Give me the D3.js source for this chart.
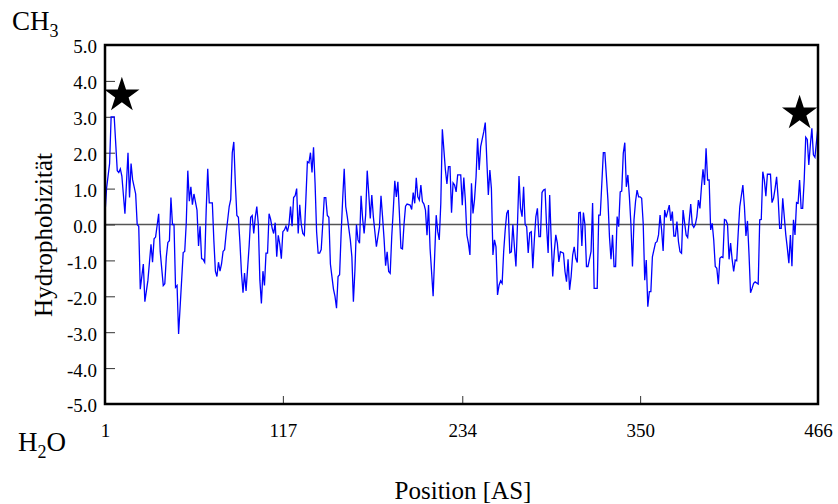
<!DOCTYPE html>
<html>
<head>
<meta charset="utf-8">
<script src="https://cdn.jsdelivr.net/npm/d3@7"></script>
<style>
  body { margin: 0; background: #fff; }
  text { font-family: "Liberation Serif", "Times New Roman", serif; fill: #000; }
</style>
</head>
<body>
<svg id="chart" width="838" height="504"></svg>
<script>
// x positions (amino acid index) of the line's vertices
const positions = [
  1, 2, 4, 5, 7, 9, 10, 11, 12, 14, 16, 17, 18, 19, 21, 22, 23, 24, 26, 27,
  29, 31, 32, 33, 34, 36, 37, 39, 40, 41, 42, 43, 44, 45, 46, 47, 48, 49, 52, 53,
  54, 55, 56, 57, 58, 59, 61, 62, 63, 64, 65, 66, 67, 68, 69, 71, 72, 73, 74, 75,
  76, 77, 78, 79, 80, 82, 83, 84, 85, 86, 87, 88, 89, 90, 91, 92, 93, 95, 96, 97,
  98, 99, 100, 101, 102, 103, 104, 105, 106, 107, 108, 109, 110, 111, 112, 113, 114, 115, 116, 117,
  118, 119, 120, 121, 122, 123, 124, 125, 126, 127, 128, 129, 130, 131, 132, 133, 134, 135, 136, 137,
  138, 139, 140, 141, 142, 143, 144, 145, 146, 147, 148, 149, 150, 151, 152, 153, 154, 155, 156, 157,
  158, 159, 161, 162, 163, 164, 165, 166, 167, 168, 169, 170, 171, 172, 173, 174, 175, 176, 178, 180,
  181, 182, 183, 184, 185, 186, 187, 188, 189, 190, 191, 192, 193, 194, 195, 196, 197, 198, 200, 201,
  202, 203, 204, 205, 206, 207, 208, 209, 210, 211, 212, 213, 215, 217, 218, 219, 220, 221, 223, 224,
  225, 226, 227, 228, 229, 230, 231, 233, 234, 235, 236, 237, 238, 239, 240, 241, 242, 243, 244, 245,
  246, 248, 249, 250, 251, 252, 253, 254, 255, 256, 257, 258, 259, 260, 261, 262, 263, 264, 265, 266,
  267, 268, 269, 270, 271, 272, 273, 274, 275, 276, 277, 278, 279, 280, 281, 282, 283, 284, 285, 286,
  287, 288, 289, 290, 291, 292, 293, 294, 295, 296, 297, 298, 300, 301, 302, 303, 304, 305, 306, 307,
  308, 309, 310, 311, 312, 313, 314, 315, 316, 318, 319, 320, 322, 323, 324, 326, 327, 329, 330, 331,
  332, 333, 334, 335, 336, 337, 338, 339, 340, 341, 342, 343, 344, 345, 346, 347, 348, 349, 350, 351,
  352, 353, 354, 355, 356, 357, 358, 360, 361, 362, 363, 364, 365, 366, 367, 369, 370, 371, 372, 373,
  374, 375, 376, 377, 378, 380, 381, 383, 384, 385, 386, 387, 388, 389, 390, 391, 392, 393, 394, 395,
  396, 397, 398, 399, 400, 401, 402, 403, 404, 405, 406, 407, 408, 409, 410, 411, 412, 413, 414, 415,
  417, 418, 419, 420, 421, 422, 423, 424, 425, 427, 428, 429, 430, 431, 432, 433, 435, 436, 437, 438,
  439, 440, 441, 442, 443, 445, 446, 447, 448, 449, 450, 451, 452, 453, 454, 455, 456, 457, 458, 459,
  460, 461, 462, 463, 464, 466
];

// hydrophobicity value at each vertex
const hydro = [
  0.3, 1.0, 1.7, 3.0, 3.0, 1.5, 1.45, 1.55, 1.35, 0.3, 2.0, 0.75, 1.7, 1.25, 0.85, 0.0, -0.05, -1.8, -1.1, -2.15,
  -1.55, -0.55, -1.05, -0.4, -0.35, 0.3, -0.75, -1.7, -1.65, -0.9, -0.5, -0.45, 0.75, 0.0, 0.0, -1.75, -1.7, -3.05, -0.78, -0.75,
  0.05, 1.5, 0.65, 1.05, 0.55, 0.85, 0.4, -0.6, -0.05, -0.95, -0.97, -1.05, 0.4, 1.55, 0.6, 0.6, -0.45, -1.3, -1.45, -1.05,
  -1.3, -1.1, -0.75, -0.7, -0.25, 0.5, 0.7, 2.0, 2.3, 1.15, 0.25, 0.2, -0.5, -1.35, -1.9, -1.35, -1.85, -0.6, 0.2, 0.25,
  -0.25, 0.2, 0.5, 0.0, -1.55, -2.2, -1.3, -1.7, -0.8, -0.8, 0.3, 0.15, -0.1, -0.25, 0.05, -0.9, -0.3, -0.55, -0.95, -0.2,
  -0.15, -0.05, -0.2, 0.0, 0.5, -0.05, 0.75, 0.8, 1.0, -0.25, 0.55, 0.0, -0.25, -0.3, 0.7, 1.75, 1.72, 2.0, 1.45, 2.15,
  1.15, -0.2, -0.8, -0.8, -0.7, 0.0, 0.75, 0.75, 0.25, 0.2, -1.1, -1.45, -1.8, -2.0, -2.33, -1.45, -1.4, -0.25, 0.7, 1.55,
  0.5, 0.22, -0.43, -0.9, -2.15, -1.27, 0.0, -0.43, -0.52, 0.8, 0.17, -0.25, 0.27, 1.5, 0.87, 0.17, 0.82, 0.22, -0.62, -0.06,
  0.8, 0.22, -0.4, -1.15, -0.76, -1.31, -1.36, -0.34, 0.4, 1.22, 0.77, 1.19, 0.31, -0.66, -0.68, 0.0, 0.51, 0.57, 0.54, 0.42,
  0.89, 0.59, 1.3, 0.77, 0.68, 1.1, 0.64, 0.57, 0.4, -0.3, 0.54, -0.66, -2.0, 0.26, -0.2, -0.43, 0.59, 2.65, 1.52, 1.13,
  1.61, 1.61, 0.33, 1.16, 1.1, 0.91, 1.38, 1.38, 0.54, 1.31, 0.68, -0.29, -0.52, -0.85, 1.15, 0.31, 0.7, 1.33, 2.4, 1.52,
  2.17, 2.58, 2.84, 1.8, 0.82, 1.52, 1.0, -0.85, -0.43, -0.62, -1.96, -1.69, -1.57, -1.64, -0.76, -0.15, 0.31, 0.4, -0.79, -0.76,
  0.0, -0.62, -1.17, 0.0, 1.35, 0.45, 0.22, 1.05, 0.0, -0.06, -0.79, -0.23, -0.2, -1.22, -0.43, 0.22, 0.45, -0.34, -0.34, 0.89,
  0.96, 0.98, -0.06, -0.79, 0.82, -0.43, -1.45, -0.76, -0.29, -0.52, -1.04, -0.76, -0.8, -1.31, -1.59, -0.97, -1.82, -1.45, -0.85, -0.62,
  -0.94, -1.06, 0.33, 0.34, -0.6, 0.33, 0.0, -1.17, -1.17, -0.75, 0.6, -1.78, -1.78, 0.26, 0.26, 2.0, 2.0, 0.68, -0.34, -0.97,
  -0.29, -1.17, -1.17, 0.22, -0.06, 0.91, 0.93, 1.98, 2.28, 1.05, 1.38, 0.77, 0.0, -1.17, 0.13, 0.64, 0.96, 0.77, 0.77, 0.73,
  0.03, -1.55, -0.99, -2.29, -1.87, -1.87, -0.9, -0.51, -0.48, -0.29, 0.26, -0.15, -0.74, 0.4, 0.2, 0.54, 0.1, 0.36, -0.32, -0.32,
  0.08, -0.48, -0.76, -0.8, 0.4, -0.29, -0.36, 0.57, 0.0, -0.08, 0.0, 0.22, 0.68, 0.45, 1.05, 1.54, 1.1, 2.12, 1.24, 1.24,
  -0.15, 0.03, -0.43, -1.17, -1.22, -1.66, -0.94, -0.9, -0.92, 0.14, 0.12, 0.0, -0.97, -0.52, -0.97, -1.31, -0.99, -1.01, -0.2, 0.5,
  1.1, 0.51, -0.32, 0.1, -0.82, -1.9, -1.78, -1.64, -1.6, -1.66, 0.13, 0.14, 1.47, 1.24, 0.79, 1.4, 1.4, 0.61, 0.73, 1.0,
  1.33, 0.73, -0.11, -0.11, 0.73, -0.29, -0.66, -1.08, -0.29, -1.16, 0.13, -0.29, 0.61, 0.59, 1.24, 0.45, 0.45, 1.24, 2.43, 2.37,
  1.66, 2.21, 2.68, 1.94, 1.87, 2.73
];

const yTicks = [-5, -4, -3, -2, -1, 0, 1, 2, 3, 4, 5];
const xTicks = [1, 117, 234, 350, 466];

// star markers near both ends of the sequence
const starPos = [12, 454];
const starVal = [3.6, 3.1];

const svg = d3.select("#chart");

const x = d3.scaleLinear().domain([1, 466]).range([105, 818]);
const y = d3.scaleLinear().domain([-5, 5]).range([404, 45]);

// zero line
svg.append("line")
    .attr("x1", x(1)).attr("x2", x(466))
    .attr("y1", y(0)).attr("y2", y(0))
    .attr("stroke", "#555")
    .attr("stroke-width", 1.5);

// y axis (ticks point inward)
const yAxis = svg.append("g")
    .attr("transform", `translate(${x(1)},0)`)
    .call(d3.axisLeft(y).tickValues(yTicks).tickSize(-10).tickPadding(8)
        .tickFormat(d => d.toFixed(1)));
yAxis.select(".domain").remove();
yAxis.selectAll("line").attr("stroke", "#333");
yAxis.selectAll("text")
    .attr("dy", "0.42em")
    .style("font-size", "19px")
    .style("font-family", "Liberation Serif");

// x axis
const xAxis = svg.append("g")
    .attr("transform", `translate(0,${y(-5)})`)
    .call(d3.axisBottom(x).tickValues(xTicks).tickSize(-8).tickPadding(20));
xAxis.select(".domain").remove();
xAxis.selectAll("line").attr("stroke", "#333");
xAxis.selectAll("text")
    .style("font-size", "19px")
    .style("font-family", "Liberation Serif");

// hydrophobicity line
const line = d3.line()
    .x((d, i) => x(positions[i]))
    .y(d => y(d));

svg.append("path")
    .datum(hydro)
    .attr("fill", "none")
    .attr("stroke", "#0000ff")
    .attr("stroke-width", 1.3)
    .attr("stroke-linejoin", "miter")
    .attr("d", line);

// frame
svg.append("rect")
    .attr("x", x(1)).attr("y", y(5))
    .attr("width", x(466) - x(1))
    .attr("height", y(-5) - y(5))
    .attr("fill", "none")
    .attr("stroke", "#000")
    .attr("stroke-width", 2.5);

// stars
svg.selectAll(".star")
    .data(starPos)
    .enter().append("path")
    .attr("class", "star")
    .attr("transform", (d, i) => `translate(${x(d)},${y(starVal[i])})`)
    .attr("d", d3.symbol(d3.symbolStar).size(385))
    .attr("fill", "#000");

// CH3 / H2O end labels
const ch3 = svg.append("text").attr("x", 12).attr("y", 30).style("font-size", "27px");
ch3.append("tspan").text("CH");
ch3.append("tspan").attr("dy", 7).style("font-size", "18px").text("3");

const h2o = svg.append("text").attr("x", 18).attr("y", 451).style("font-size", "27px");
h2o.append("tspan").text("H");
h2o.append("tspan").attr("dy", 7).style("font-size", "18px").text("2");
h2o.append("tspan").attr("dy", -7).text("O");

// axis titles
svg.append("text")
    .attr("transform", "translate(52,235) rotate(-90)")
    .attr("text-anchor", "middle")
    .style("font-size", "25px")
    .text("Hydrophobizität");

svg.append("text")
    .attr("x", 463)
    .attr("y", 499)
    .attr("text-anchor", "middle")
    .style("font-size", "25px")
    .text("Position [AS]");
</script>
</body>
</html>
